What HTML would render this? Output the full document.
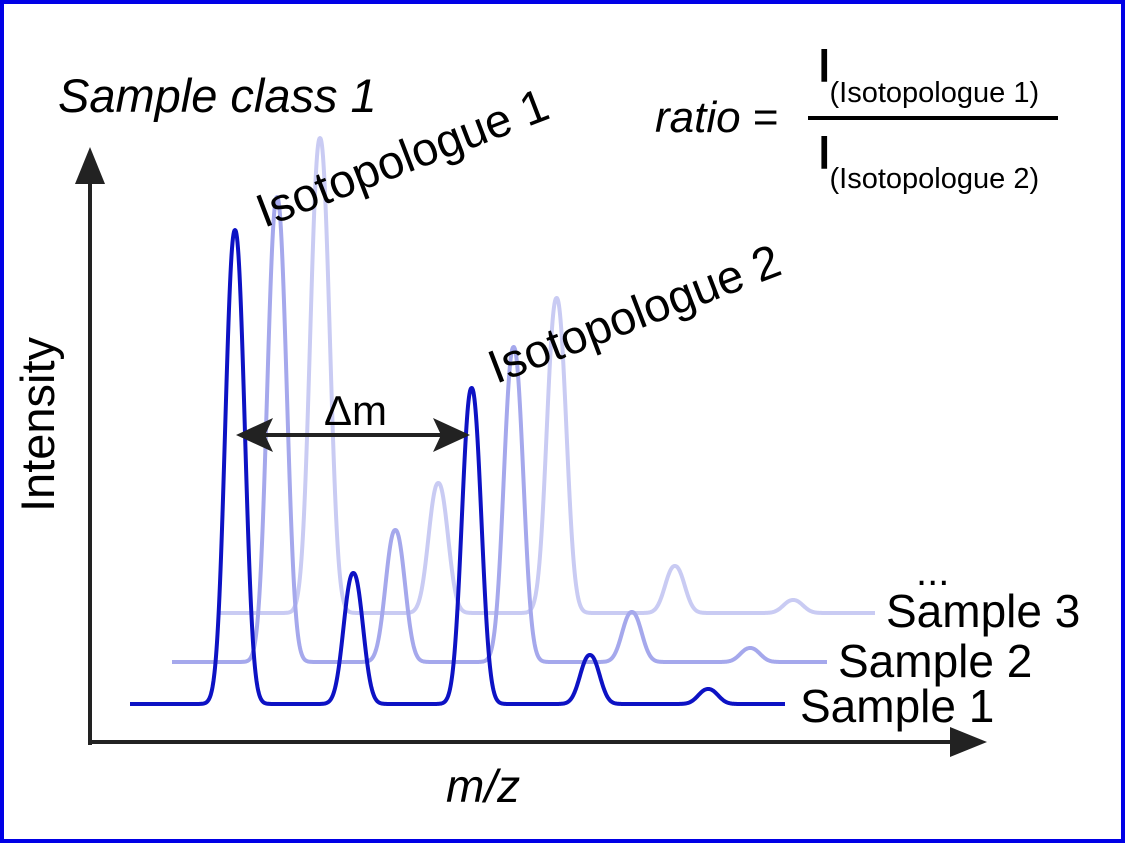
<!DOCTYPE html>
<html><head><meta charset="utf-8"><style>
html,body{margin:0;padding:0;background:#fff}
svg{display:block;font-family:"Liberation Sans",Arial,sans-serif}
</style></head><body>
<svg id="chart" width="1125" height="843" viewBox="0 0 1125 843">
<rect x="2" y="2" width="1121" height="839" fill="#fff" stroke="#0000e6" stroke-width="4"/>
<g id="series"></g>
<g fill="#222" stroke="#222">
<line x1="90" y1="745" x2="90" y2="175" stroke-width="4"/>
<polygon points="90,147 75,184 105,184" stroke="none"/>
<line x1="88" y1="742" x2="955" y2="742" stroke-width="4"/>
<polygon points="987,742 950,727 950,757" stroke="none"/>
</g>
<g fill="#222" stroke="#222">
<line x1="255" y1="435" x2="450" y2="435" stroke-width="4"/>
<polygon points="236,435 273,418 265,435 273,452" stroke="none"/>
<polygon points="470,435 433,418 441,435 433,452" stroke="none"/>
</g>
<text x="324" y="425" font-size="42">Δm</text>
<text x="58" y="112" font-size="47" font-style="italic">Sample class 1</text>
<text transform="translate(264,228) rotate(-21)" font-size="47">Isotopologue 1</text>
<text transform="translate(496,384) rotate(-21)" font-size="47">Isotopologue 2</text>
<text transform="translate(54,512) rotate(-90)" font-size="47">Intensity</text>
<text x="446" y="802" font-size="46" font-style="italic">m/z</text>
<text x="655" y="132" font-size="44"><tspan font-style="italic">ratio</tspan> =</text>
<text x="818" y="81" font-size="45" stroke="#000" stroke-width="1.5">I<tspan font-size="29" stroke="none" dy="21" dx="-1">(Isotopologue 1)</tspan></text>
<line x1="808" y1="118" x2="1058" y2="118" stroke="#000" stroke-width="4"/>
<text x="818" y="168" font-size="45" stroke="#000" stroke-width="1.5">I<tspan font-size="29" stroke="none" dy="20" dx="-1">(Isotopologue 2)</tspan></text>
<text x="916" y="585" font-size="40">...</text>
<text x="886" y="627" font-size="46">Sample 3</text>
<text x="838" y="677" font-size="46">Sample 2</text>
<text x="800" y="722" font-size="46">Sample 1</text>
</svg>
<script>
const peakPositions = [0, 1, 2, 3, 4];
const sample1Heights = [474, 131, 316, 49, 15];
const sample2Heights = [465, 132, 315, 50, 14];
const sample3Heights = [475, 130, 315, 47, 13];
const sampleNames = ['sample-3', 'sample-2', 'sample-1'];

const sampleLayout = [
  {heights: sample3Heights, x0: 220, x1: 875, base: 613, first: 320, color: '#c9cbf3', name: sampleNames[0]},
  {heights: sample2Heights, x0: 172, x1: 827, base: 662, first: 277, color: '#a5a8ec', name: sampleNames[1]},
  {heights: sample1Heights, x0: 130, x1: 785, base: 704, first: 235, color: '#0d12c4', name: sampleNames[2]}
];
const spacing = 118.3;
const sigma = 9.5;
const g = document.getElementById('series');
sampleLayout.forEach(s => {
  let d = '';
  for (let x = s.x0; x <= s.x1; x += 0.5) {
    let y = 0;
    peakPositions.forEach((p, i) => {
      const c = s.first + p * spacing;
      const dx = (x - c) / sigma;
      y += s.heights[i] * Math.exp(-0.5 * Math.pow(Math.abs(dx), 2.2));
    });
    d += (d ? 'L' : 'M') + x.toFixed(1) + ',' + (s.base - y).toFixed(1);
  }
  const path = document.createElementNS('http://www.w3.org/2000/svg', 'path');
  path.setAttribute('d', d);
  path.setAttribute('fill', 'none');
  path.setAttribute('stroke', s.color);
  path.setAttribute('stroke-width', '4');
  path.setAttribute('stroke-linejoin', 'round');
  
  
  g.appendChild(path);
});
</script>
</body></html>
